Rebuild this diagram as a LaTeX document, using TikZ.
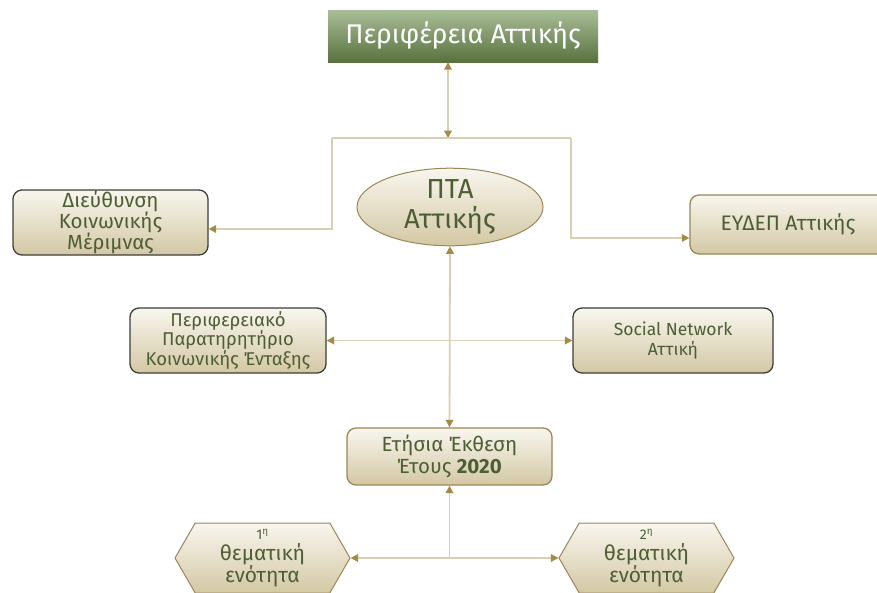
\documentclass[tikz,border=0pt]{standalone}
\usepackage{fontspec}
\setmainfont{Fira Sans}
\usetikzlibrary{arrows.meta,shapes.geometric,shapes.symbols}
\definecolor{txt}{HTML}{4E5E34}
\definecolor{linec}{HTML}{D9D0B4}
\definecolor{tipc}{HTML}{A38B45}
\definecolor{boxtop}{HTML}{F8F6EE}
\definecolor{boxbot}{HTML}{D3C8A5}
\definecolor{bord}{HTML}{3E3E36}
\definecolor{tanc}{HTML}{9A8757}
\definecolor{gtop}{HTML}{A9BE97}
\definecolor{gbot}{HTML}{5A713F}
\begin{document}
\begin{tikzpicture}[x=1pt,y=-1pt,
  >={Triangle[length=7.5pt,width=7.5pt,color=tipc]},
  box/.style={rectangle, rounded corners=9pt, draw=bord, line width=1.3pt,
    top color=boxtop, bottom color=boxbot, text=txt, align=center, inner sep=0pt},
  topbox/.style={rectangle, draw=none, top color=gtop, bottom color=gbot,
    text=white, inner sep=0pt, minimum width=270pt, minimum height=52pt,
    font=\fontsize{27}{30}\selectfont},
  ellbox/.style={ellipse, draw=tanc, line width=1pt, top color=boxtop, bottom color=boxbot,
    text=txt, align=center, inner sep=0pt, minimum width=186pt, minimum height=70pt,
    font=\fontsize{27.5}{30}\selectfont},
  hexbox/.style={signal, signal to=west and east, signal pointer angle=120,
    draw=tanc, line width=1pt, top color=boxtop, bottom color=boxbot,
    text=txt, align=center, inner sep=0pt, minimum width=175pt, minimum height=70pt,
    font=\fontsize{21}{21}\selectfont},
  conn/.style={draw=linec, line width=1.8pt}
]
\useasboundingbox (0,0) rectangle (877,592);
\clip (0,0) rectangle (877,592);
\fill[white] (0,0) rectangle (877,592);

% connector junctions
\coordinate (jc) at (448,138);
\coordinate (jl) at (332,138);
\coordinate (jr) at (571,138);
\coordinate (dl) at (332,229);
\coordinate (dr) at (571,238);
\coordinate (jb) at (450,558);

% nodes
\node[topbox] (top) at (463,36) {Περιφέρεια Αττικής};
\node[box, minimum width=195pt, minimum height=65pt, font=\fontsize{20.5}{21}\selectfont]
  (dieu) at (110.5,222.5) {Διεύθυνση\\Κοινωνικής\\Μέριμνας};
\node[box, draw=tanc, minimum width=196pt, minimum height=59pt, font=\fontsize{21}{24}\selectfont]
  (eydep) at (788,224.5) {ΕΥΔΕΠ Αττικής};
\node[ellbox] (pta) at (450,207) {ΠΤΑ\\Αττικής};
\node[box, minimum width=196pt, minimum height=65pt, font=\fontsize{18.5}{18.5}\selectfont]
  (paratir) at (228,340.5) {Περιφερειακό\\Παρατηρητήριο\\Κοινωνικής Ένταξης};
\node[box, minimum width=200pt, minimum height=65pt, font=\fontsize{17.5}{19.5}\selectfont]
  (social) at (673,340.5) {Social Network\\Αττική};
\node[box, draw=tanc, minimum width=205pt, minimum height=57pt, font=\fontsize{20.5}{21.5}\selectfont]
  (etisia) at (449.5,456.5) {Ετήσια Έκθεση\\Έτους \textbf{2020}};
\node[hexbox] (hex1) at (262.5,558) {{\fontsize{14}{16}\selectfont 1\textsuperscript{η}}\\θεματική\\ενότητα};
\node[hexbox] (hex2) at (646.5,558) {{\fontsize{14}{16}\selectfont 2\textsuperscript{η}}\\θεματική\\ενότητα};

% connectors
\draw[conn,<->] (top.south -| jc) -- (jc);
\draw[conn] (jl) -- (jr);
\draw[conn,->] (jl) -- (dl) -- (dl -| dieu.east);
\draw[conn,->] (jr) -- (dr) -- (dr -| eydep.west);
\draw[conn,<->] (pta.south) -- (etisia.north);
\draw[conn,<->] (paratir.east) -- (social.west);
\draw[conn,<-] (etisia.south) -- (etisia.south |- jb);
\draw[conn,<->] (hex1.east) -- (hex2.west);
\end{tikzpicture}
\end{document}
